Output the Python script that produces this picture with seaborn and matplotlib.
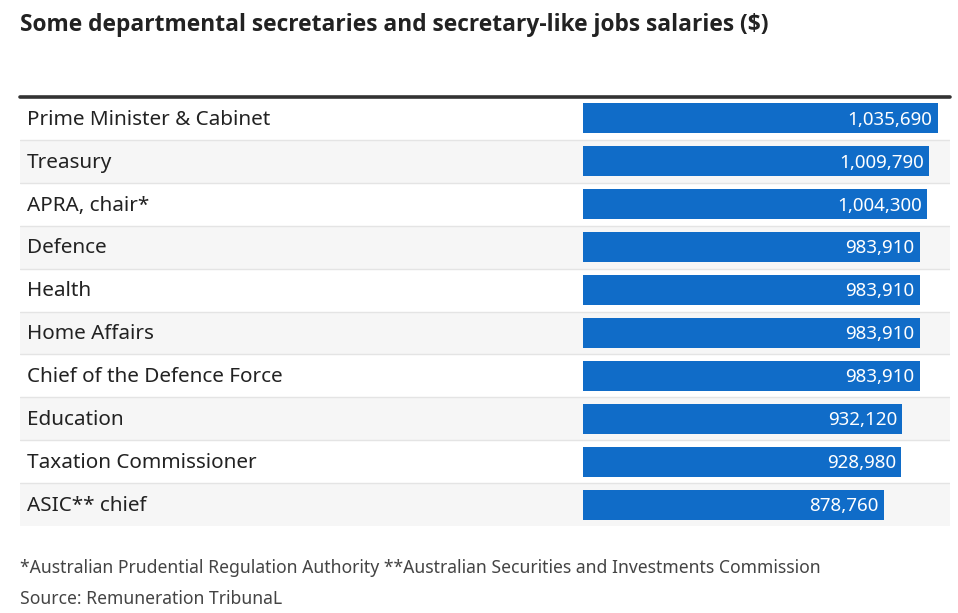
import matplotlib
matplotlib.use("Agg")
import matplotlib.pyplot as plt
import seaborn as sns
import pandas as pd

# data
jobs = ["Prime Minister & Cabinet", "Treasury", "APRA, chair*", "Defence", "Health",
        "Home Affairs", "Chief of the Defence Force", "Education",
        "Taxation Commissioner", "ASIC** chief"]
salaries = [1035690, 1009790, 1004300, 983910, 983910,
            983910, 983910, 932120, 928980, 878760]

title = "Some departmental secretaries and secretary-like jobs salaries ($)"
note = "*Australian Prudential Regulation Authority **Australian Securities and Investments Commission"
source = "Source: Remuneration TribunaL"

sns.set_theme(style="white")
plt.rcParams["font.family"] = ["Noto Sans", "DejaVu Sans"]

W, H = 958, 613
fig = plt.figure(figsize=(W / 100, H / 100), dpi=100)
fig.patch.set_facecolor("white")

top, bottom = 97, 526
n = len(jobs)

# background axes: row stripes + labels
ax_bg = fig.add_axes([20 / W, (H - bottom) / H, 930 / W, (bottom - top) / H])
ax_bg.set_xlim(0, 1)
ax_bg.set_ylim(n - 0.5, -0.5)
ax_bg.axis("off")
for i, name in enumerate(jobs):
    if i % 2 == 1:
        ax_bg.axhspan(i - 0.5, i + 0.5, color="#f6f6f6", lw=0, zorder=0)
    if i < n - 1:
        ax_bg.axhline(i + 0.5, color="#e4e4e4", lw=1, zorder=1)
    ax_bg.text(7 / 930, i + 0.03, name, va="center", ha="left", fontsize=14.9, color="#222222")
ax_bg.axhline(-0.5, color="#333333", lw=2.6, clip_on=False, zorder=3)

# bar axes
df = pd.DataFrame({"job": jobs, "salary": salaries})
ax = fig.add_axes([583 / W, (H - bottom) / H, (950 - 583) / W, (bottom - top) / H])
ax.patch.set_alpha(0)
sns.barplot(data=df, x="salary", y="job", orient="h", color="#106cc8",
            width=0.7, saturation=1, linewidth=0, ax=ax)
ax.set_xlim(0, max(salaries) * 367 / 355)
ax.set_ylim(n - 0.5, -0.5)
ax.axis("off")
for i, v in enumerate(salaries):
    ax.annotate(f"{v:,}", xy=(v, i + 0.03), xytext=(-4, 0), textcoords="offset points",
                ha="right", va="center", color="white", fontsize=13.5)

fig.text(20 / W, 1 - 25 / H, title, ha="left", va="center", fontsize=16.4,
         fontweight="bold", color="#222222", family=["Open Sans", "DejaVu Sans"])
fig.text(20 / W, 1 - 568 / H, note, ha="left", va="center", fontsize=12.65, color="#444444")
fig.text(20 / W, 1 - 599 / H, source, ha="left", va="center", fontsize=12.65, color="#444444")

fig.savefig("out.png", dpi=100, facecolor="white")
